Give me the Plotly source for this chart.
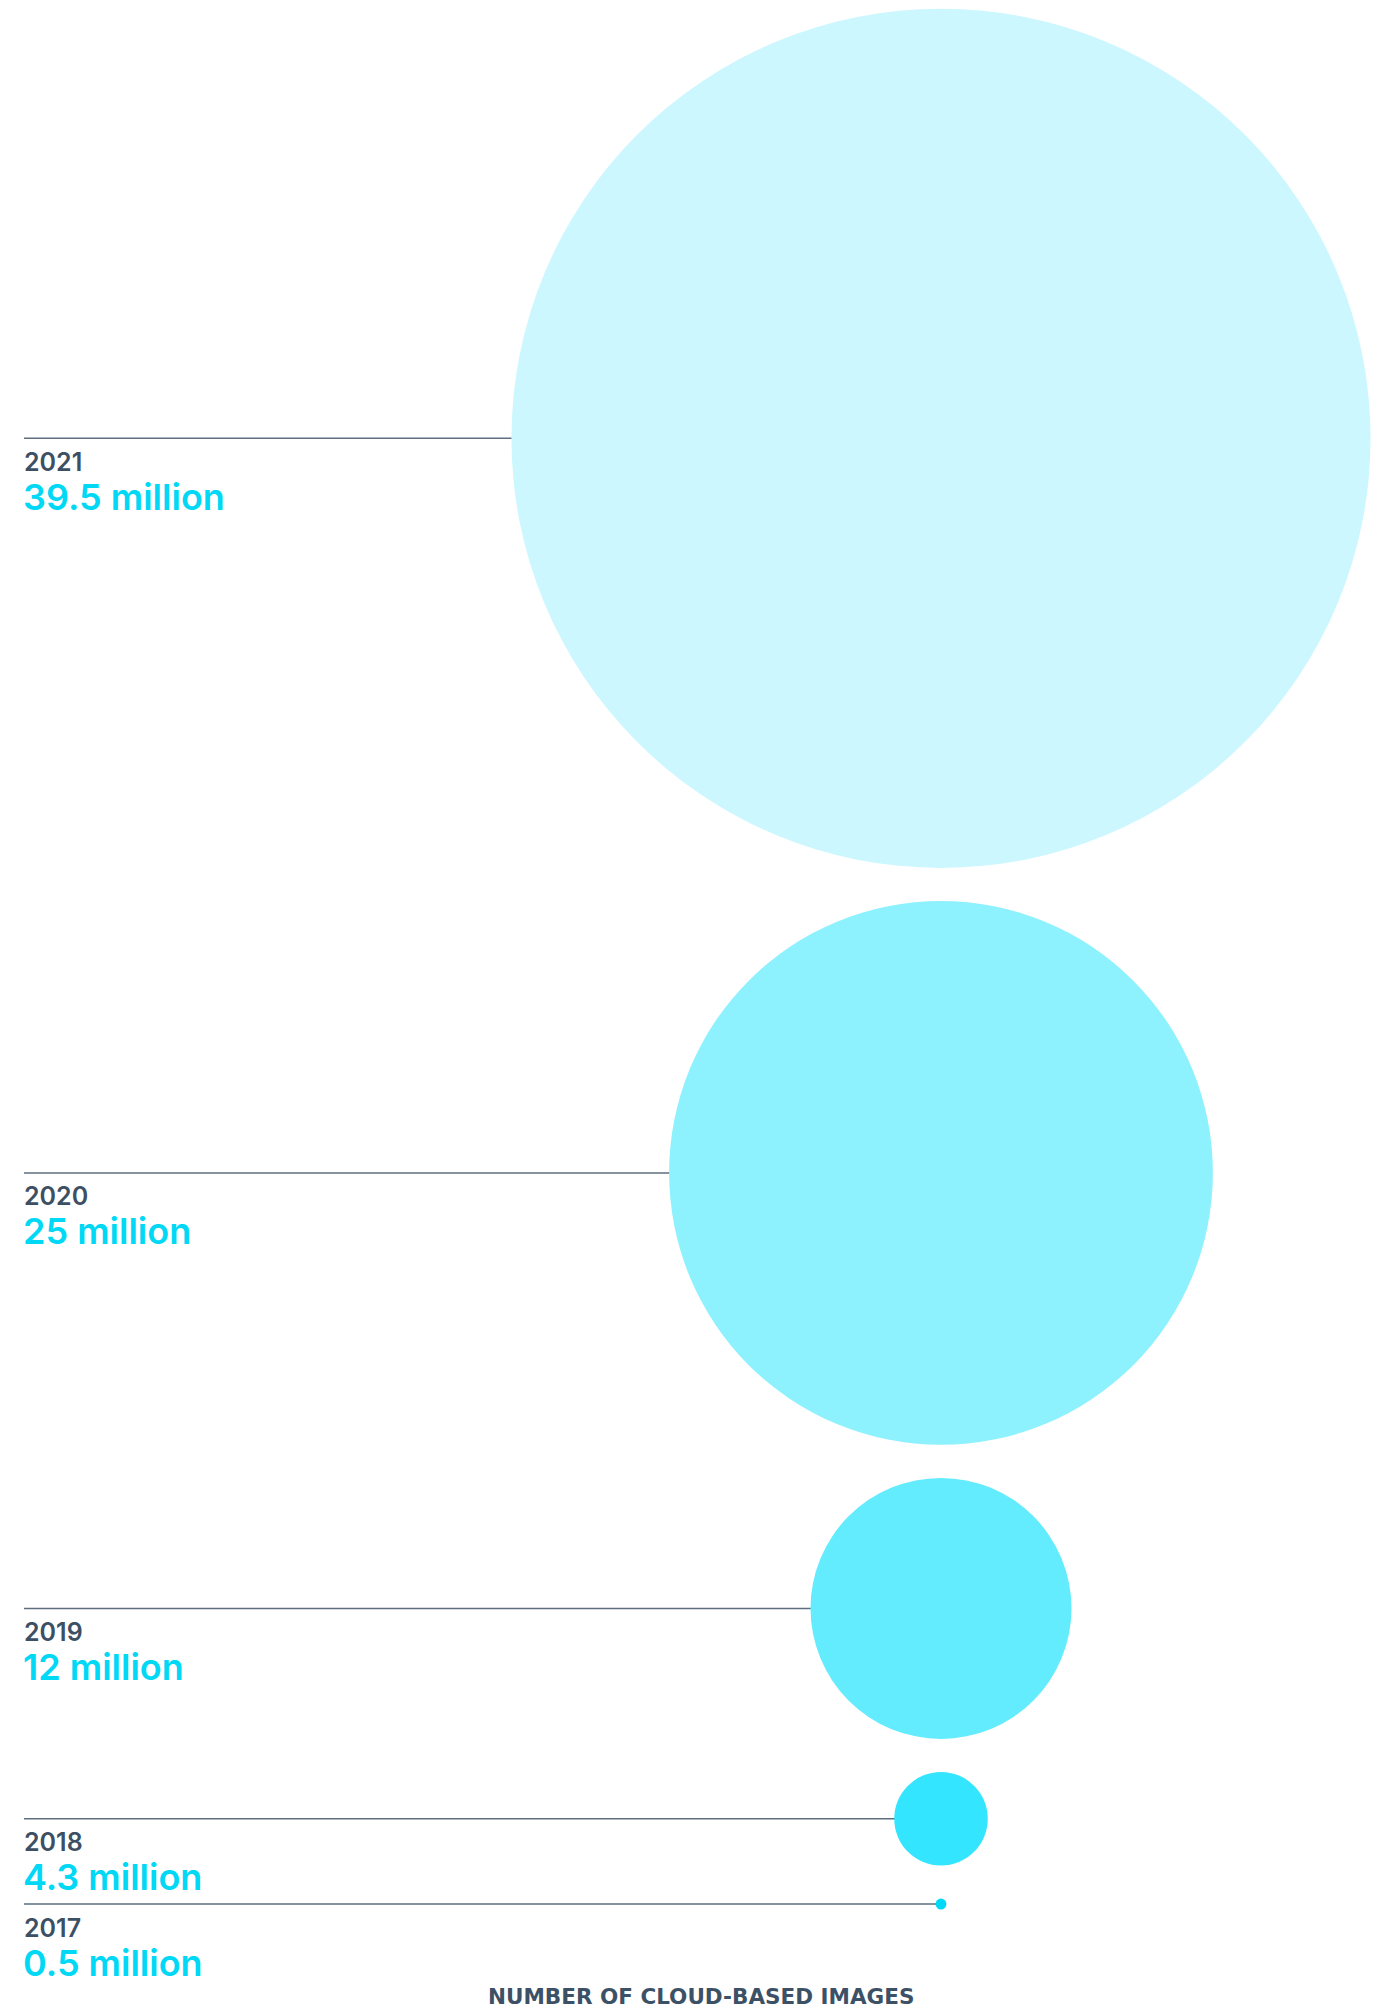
import plotly.graph_objects as go

# ---- data ----
years = ["2021", "2020", "2019", "2018", "2017"]
values = [39.5, 25, 12, 4.3, 0.5]  # millions of cloud-based images
value_labels = ["39.5 million", "25 million", "12 million", "4.3 million", "0.5 million"]
colors = ["#ccf7fe", "#8ef1fe", "#63ebfe", "#33e5fe", "#00d8f5"]
title_text = "NUMBER OF CLOUD-BASED IMAGES"

# ---- layout constants (pixels) ----
W, H = 1394, 2011
PX_PER_MILLION = 21.75   # circle diameter per million
CX = 941                 # circle centre x
TOP = 8.8
GAP = 33.1
LINE_X0 = 24

diam = [v * PX_PER_MILLION for v in values]
centers = []
y = TOP
for d in diam:
    centers.append(y + d / 2)
    y += d + GAP

fig = go.Figure()

# connector lines
for c in centers:
    fig.add_trace(go.Scatter(
        x=[LINE_X0, CX], y=[c, c], mode="lines",
        line=dict(color="#5e6e7e", width=1.5),
        hoverinfo="skip", showlegend=False))

# circles
fig.add_trace(go.Scatter(
    x=[CX] * len(values), y=centers, mode="markers",
    marker=dict(size=diam, sizemode="diameter", sizeref=1, color=colors,
                line=dict(width=0), opacity=1),
    text=value_labels, hoverinfo="text", showlegend=False))

# labels
for yr, lab, c in zip(years, value_labels, centers):
    fig.add_annotation(x=LINE_X0 - 2, y=c + 23.5, xref="x", yref="y",
                       text=yr, showarrow=False, xanchor="left", yanchor="middle",
                       font=dict(family="Inter", size=25, color="#3d5063", weight=600))
    fig.add_annotation(x=LINE_X0 - 3, y=c + 58.5, xref="x", yref="y",
                       text=lab, showarrow=False, xanchor="left", yanchor="middle",
                       font=dict(family="Inter", size=36, color="#00d8f5", weight=600))

fig.add_annotation(x=701, y=1996, xref="x", yref="y", text=title_text,
                   showarrow=False, xanchor="center", yanchor="middle",
                   font=dict(family="DejaVu Sans", size=21.5, color="#3d5166", weight=700))

fig.update_xaxes(range=[0, W], visible=False, fixedrange=True)
fig.update_yaxes(range=[H, 0], visible=False, fixedrange=True)
fig.update_layout(width=W, height=H, margin=dict(l=0, r=0, t=0, b=0),
                  paper_bgcolor="white", plot_bgcolor="white")

fig.write_html("out.html")
